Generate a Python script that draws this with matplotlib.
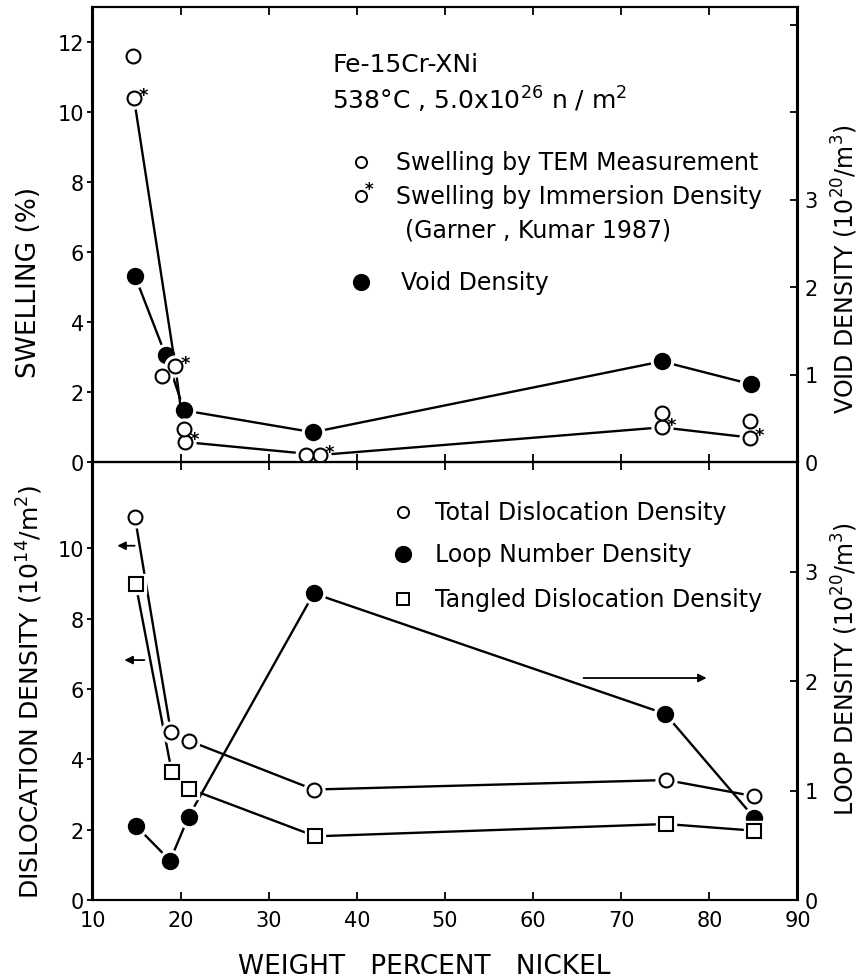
import matplotlib.pyplot as plt

plt.rcParams['font.family'] = ['DejaVu Sans']
plt.rcParams['mathtext.fontset'] = 'dejavusans'

# --- swelling / void density (upper panel) ---
tem_ni = [14.6, 17.9, 20.4, 34.2, 74.6, 84.6]
tem_swelling = [11.6, 2.46, 0.94, 0.2, 1.41, 1.18]
imm_ni = [14.7, 19.4, 20.5, 35.8, 74.6, 84.6]
imm_swelling = [10.4, 2.74, 0.57, 0.2, 0.99, 0.70]
void_ni = [14.8, 18.3, 20.4, 35.0, 74.6, 84.7]
void_density = [2.13, 1.22, 0.59, 0.34, 1.15, 0.89]

# --- dislocation / loop density (lower panel) ---
total_ni = [14.8, 18.9, 20.9, 35.1, 75.1, 85.1]
total_disl = [10.9, 4.77, 4.53, 3.14, 3.41, 2.95]
tangled_ni = [14.9, 19.0, 21.0, 35.3, 75.1, 85.1]
tangled_disl = [8.98, 3.63, 3.16, 1.81, 2.16, 1.97]
loop_ni = [14.9, 18.8, 20.9, 35.1, 75.0, 85.1]
loop_density = [0.68, 0.36, 0.76, 2.80, 1.70, 0.75]

x_ticks = [10, 20, 30, 40, 50, 60, 70, 80, 90]

LW = 1.7
FS = 15      # tick labels
FS_TXT = 17  # legend / notes
FS_LAB = 18  # axis titles


def draw_series(ax, x, y, marker, ms, filled, line=True):
    if line:
        ax.plot(x, y, '-', color='k', lw=LW, zorder=2)
    # white halo leaves a small gap between line and symbol
    ax.plot(x, y, ls='none', marker=marker, ms=ms + 5, mfc='white',
            mec='white', zorder=3)
    ax.plot(x, y, ls='none', marker=marker, ms=ms,
            mfc='k' if filled else 'white', mec='k', mew=1.5, zorder=4)


def style_axes(ax, axr):
    for a in (ax, axr):
        for s in a.spines.values():
            s.set_linewidth(1.5)
    ax.set_xlim(10, 90)
    ax.set_xticks(x_ticks)
    ax.tick_params(axis='y', direction='out', length=4, width=1.3,
                   pad=2, labelsize=FS)
    axr.tick_params(axis='y', direction='in', length=5, width=1.3,
                    pad=5, labelsize=FS)
    ax.set_zorder(axr.get_zorder() + 1)
    ax.patch.set_visible(False)


def legend_mark(ax, x, y, marker, ms, filled):
    ax.plot([x], [y], marker=marker, ms=ms, mfc='k' if filled else 'white',
            mec='k', mew=1.4, transform=ax.transAxes, clip_on=False)


fig = plt.figure(figsize=(8.63, 9.79), dpi=100)
W, H = 863, 979
left, width = 92.5 / W, 705 / W
ax1 = fig.add_axes([left, 1 - 463 / H, width, 455 / H])
ax2 = fig.add_axes([left, 1 - 901 / H, width, 438 / H])
ax1r = ax1.twinx()
ax2r = ax2.twinx()

# upper panel
draw_series(ax1r, void_ni, void_density, 'o', 11, True)
draw_series(ax1, imm_ni, imm_swelling, 'o', 10, False)
draw_series(ax1, tem_ni, tem_swelling, 'o', 10, False, line=False)
for xi, yi in zip(imm_ni, imm_swelling):
    ax1.annotate('*', (xi, yi), xytext=(7, 2), textcoords='offset points',
                 fontsize=13, fontweight='bold', ha='center', va='center',
                 zorder=5)

ax1.set_ylim(0, 13)
ax1.set_yticks(range(0, 13, 2))
ax1r.set_ylim(0, 5.2)
ax1r.set_yticks([0, 1, 2, 3, 4, 5])
ax1r.set_yticklabels(['0', '1', '2', '3', '', ''])
style_axes(ax1, ax1r)
ax1.tick_params(axis='x', top=True, bottom=True, direction='in',
                length=6, width=1.3, labelbottom=False)

ax1.text(0.340, 0.875, 'Fe-15Cr-XNi', transform=ax1.transAxes,
         fontsize=FS_TXT + 1, va='center')
ax1.text(0.340, 0.798, '538°C , 5.0x10$^{26}$ n / m$^2$',
         transform=ax1.transAxes, fontsize=FS_TXT + 1, va='center')
legend_mark(ax1, 0.381, 0.659, 'o', 8, False)
ax1.text(0.430, 0.659, 'Swelling by TEM Measurement',
         transform=ax1.transAxes, fontsize=FS_TXT, va='center')
legend_mark(ax1, 0.381, 0.585, 'o', 8, False)
ax1.text(0.392, 0.600, '*', transform=ax1.transAxes, fontsize=12,
         fontweight='bold', ha='center', va='center')
ax1.text(0.430, 0.585, 'Swelling by Immersion Density',
         transform=ax1.transAxes, fontsize=FS_TXT, va='center')
ax1.text(0.443, 0.512, '(Garner , Kumar 1987)',
         transform=ax1.transAxes, fontsize=FS_TXT, va='center')
legend_mark(ax1, 0.381, 0.396, 'o', 11, True)
ax1.text(0.438, 0.396, 'Void Density', transform=ax1.transAxes,
         fontsize=FS_TXT, va='center')

# lower panel
draw_series(ax2r, loop_ni, loop_density, 'o', 11, True)
draw_series(ax2, total_ni, total_disl, 'o', 10, False)
draw_series(ax2, tangled_ni, tangled_disl, 's', 9.5, False)

ax2.set_ylim(0, 12.45)
ax2.set_yticks(range(0, 11, 2))
ax2r.set_ylim(0, 4.0)
ax2r.set_yticks([0, 1, 2, 3])
style_axes(ax2, ax2r)
ax2.tick_params(axis='x', top=True, direction='in', length=6, width=1.3,
                pad=7, labelsize=FS)

legend_mark(ax2, 0.440, 0.886, 'o', 8, False)
ax2.text(0.486, 0.886, 'Total Dislocation Density',
         transform=ax2.transAxes, fontsize=FS_TXT, va='center')
legend_mark(ax2, 0.440, 0.790, 'o', 11, True)
ax2.text(0.486, 0.790, 'Loop Number Density',
         transform=ax2.transAxes, fontsize=FS_TXT, va='center')
legend_mark(ax2, 0.440, 0.687, 's', 8, False)
ax2.text(0.486, 0.687, 'Tangled Dislocation Density',
         transform=ax2.transAxes, fontsize=FS_TXT, va='center')

arrow = dict(arrowstyle='-|>', color='k', lw=1.3, mutation_scale=12)
ax2.annotate('', xy=(12.5, 10.07), xytext=(15.1, 10.07), arrowprops=arrow)
ax2.annotate('', xy=(13.3, 6.82), xytext=(16.2, 6.82), arrowprops=arrow)
ax2.annotate('', xy=(80.0, 6.31), xytext=(65.4, 6.31), arrowprops=arrow)

# axis titles
fig.text(29 / W, 1 - 282 / H, 'SWELLING (%)', rotation=90,
         ha='center', va='center', fontsize=FS_LAB + 1)
fig.text(845 / W, 1 - 269 / H, 'VOID DENSITY (10$^{20}$/m$^3$)',
         rotation=90, ha='center', va='center', fontsize=FS_LAB - 1)
fig.text(30 / W, 1 - 692 / H, 'DISLOCATION DENSITY (10$^{14}$/m$^2$)',
         rotation=90, ha='center', va='center', fontsize=FS_LAB)
fig.text(845 / W, 1 - 669 / H, 'LOOP DENSITY (10$^{20}$/m$^3$)',
         rotation=90, ha='center', va='center', fontsize=FS_LAB - 1)
fig.text(424 / W, 1 - 967 / H, 'WEIGHT   PERCENT   NICKEL',
         ha='center', va='center', fontsize=FS_LAB + 1)

fig.savefig('out.png', dpi=100)
